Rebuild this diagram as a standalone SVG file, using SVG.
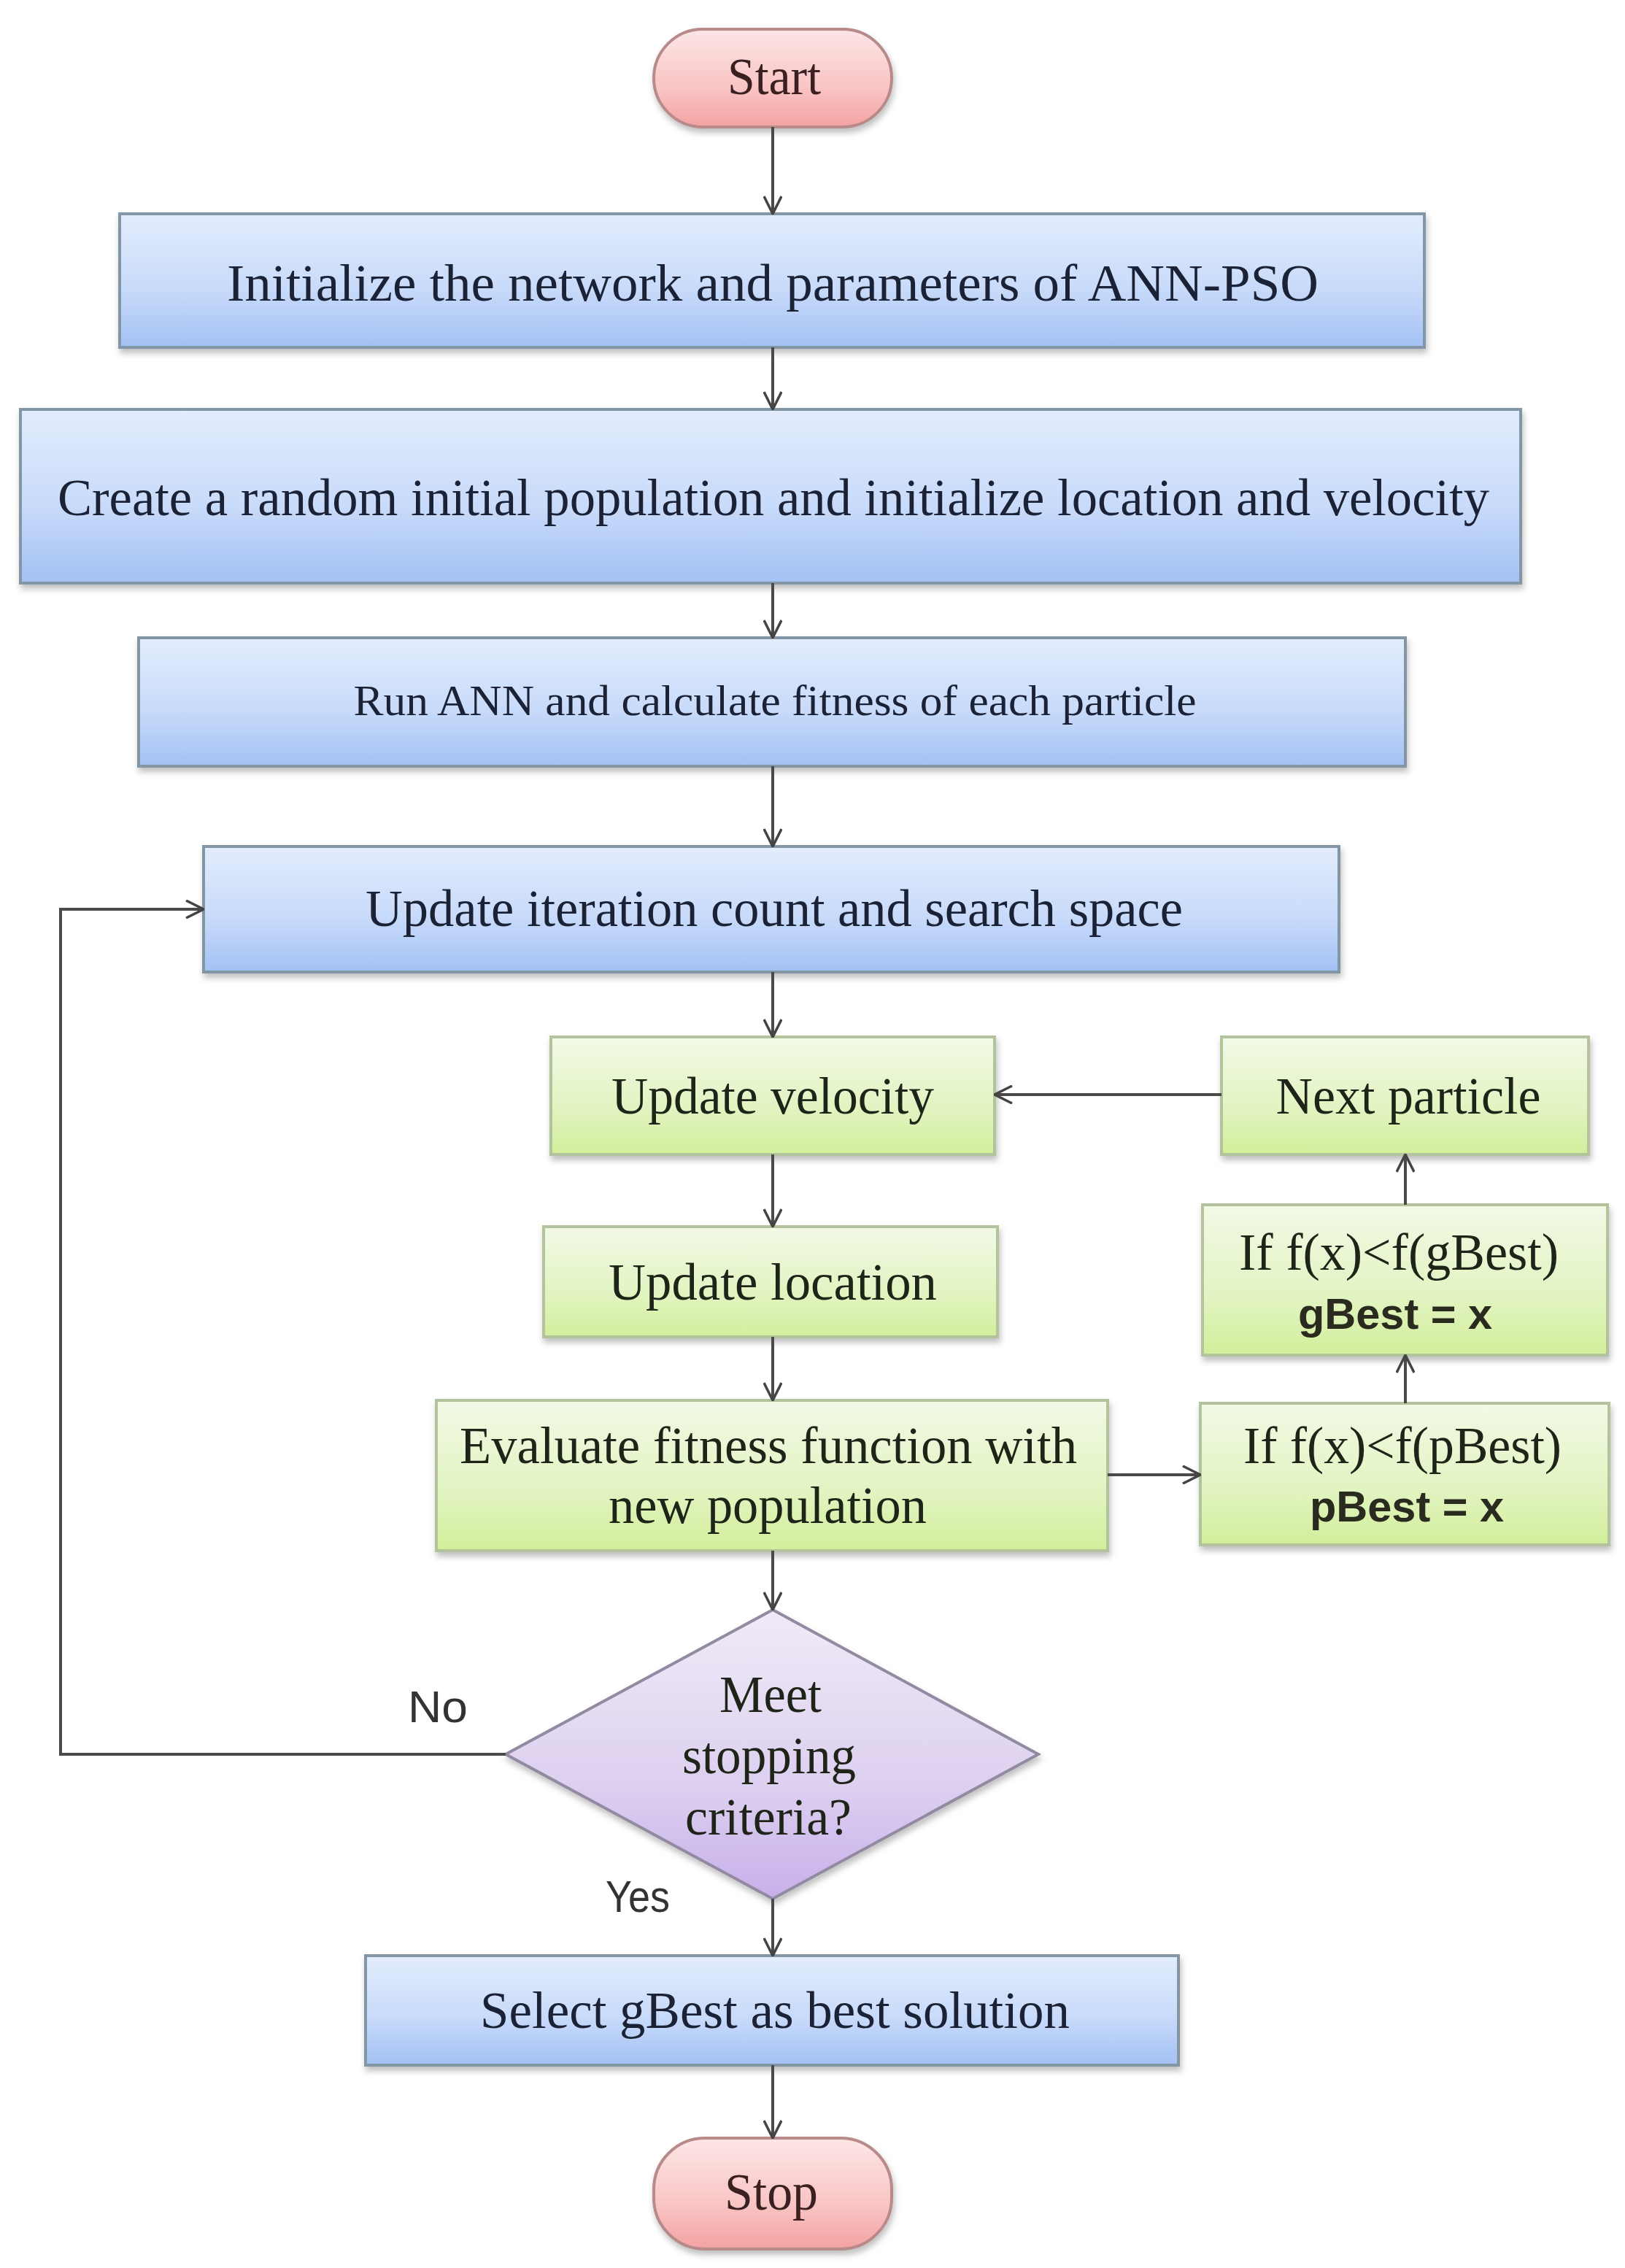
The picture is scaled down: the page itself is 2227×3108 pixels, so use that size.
<svg xmlns="http://www.w3.org/2000/svg" width="2227" height="3108" viewBox="0 0 2227 3108">
<defs>
<linearGradient id="gBlue" x1="0" y1="0" x2="0" y2="1"><stop offset="0" stop-color="#e2ecfc"/><stop offset="0.55" stop-color="#c9dbfa"/><stop offset="1" stop-color="#a3c1f4"/></linearGradient>
<linearGradient id="gGreen" x1="0" y1="0" x2="0" y2="1"><stop offset="0" stop-color="#f2f9e6"/><stop offset="0.6" stop-color="#e2f4c2"/><stop offset="1" stop-color="#d2ee9a"/></linearGradient>
<linearGradient id="gPink" x1="0" y1="0" x2="0" y2="1"><stop offset="0" stop-color="#fde6e6"/><stop offset="0.6" stop-color="#f9c4c4"/><stop offset="1" stop-color="#f4a2a2"/></linearGradient>
<linearGradient id="gPurple" x1="0" y1="0" x2="0" y2="1"><stop offset="0" stop-color="#f0ebf7"/><stop offset="0.6" stop-color="#ddd0f0"/><stop offset="1" stop-color="#c7b0ea"/></linearGradient>
<filter id="sh" x="-5%" y="-10%" width="110%" height="125%"><feDropShadow dx="2" dy="6" stdDeviation="4" flood-color="#000" flood-opacity="0.25"/></filter>
<marker id="ah" viewBox="0 0 26 26" refX="25" refY="13" markerWidth="26" markerHeight="26" markerUnits="userSpaceOnUse" orient="auto"><path d="M1,1 L25,13 L1,25" fill="none" stroke="#444" stroke-width="3.5"/></marker>
<style>
.blue{fill:url(#gBlue);stroke:#8296a6;stroke-width:4}
.green{fill:url(#gGreen);stroke:#b3c49c;stroke-width:4}
.pink{fill:url(#gPink);stroke:#b88a8a;stroke-width:4}
.purple{fill:url(#gPurple);stroke:#928aa0;stroke-width:4}
.t{font-family:"Liberation Serif","Times New Roman",serif;font-size:72px;text-anchor:middle;dominant-baseline:central}
.tb{fill:#1b2236}
.tg{fill:#1e2418}
.tp{fill:#3a2020}
.s{font-family:"Liberation Sans",Arial,sans-serif;font-weight:bold;font-size:60px;text-anchor:middle;dominant-baseline:central;fill:#2a2a1e}
.lbl{font-family:"Liberation Sans",Arial,sans-serif;font-size:62px;text-anchor:middle;dominant-baseline:central;fill:#333}
.c{fill:none;stroke:#4a4a4a;stroke-width:4;marker-end:url(#ah)}
</style>
</defs>
<rect width="2227" height="3108" fill="#ffffff"/>

<g id="start">
<rect class="pink" x="896" y="40" width="326" height="134" rx="67" filter="url(#sh)"/>
<text class="t tp" x="1061" y="105" textLength="128" lengthAdjust="spacingAndGlyphs">Start</text>
</g>

<g id="init">
<rect class="blue" x="164" y="293" width="1788" height="183" filter="url(#sh)"/>
<text class="t tb" x="1059" y="388" textLength="1496" lengthAdjust="spacingAndGlyphs">Initialize  the  network and  parameters of ANN-PSO</text>
</g>

<g id="create">
<rect class="blue" x="28" y="561" width="2056" height="238" filter="url(#sh)"/>
<text class="t tb" x="1060" y="682" textLength="1962" lengthAdjust="spacingAndGlyphs">Create a random initial population and initialize location and velocity</text>
</g>

<g id="run">
<rect class="blue" x="190" y="874" width="1736" height="176" filter="url(#sh)"/>
<text class="t tb" x="1062" y="960" style="font-size:60px" textLength="1155" lengthAdjust="spacingAndGlyphs">Run ANN and calculate fitness of each particle</text>
</g>

<g id="iter">
<rect class="blue" x="279" y="1160" width="1556" height="172" filter="url(#sh)"/>
<text class="t tb" x="1061" y="1245" textLength="1120" lengthAdjust="spacingAndGlyphs">Update iteration count and search space</text>
</g>

<g id="velocity">
<rect class="green" x="755" y="1421" width="608" height="161" filter="url(#sh)"/>
<text class="t tg" x="1059" y="1502" textLength="442" lengthAdjust="spacingAndGlyphs">Update velocity</text>
</g>

<g id="next">
<rect class="green" x="1674" y="1421" width="503" height="161" filter="url(#sh)"/>
<text class="t tg" x="1930" y="1502" textLength="363" lengthAdjust="spacingAndGlyphs">Next particle</text>
</g>

<g id="location">
<rect class="green" x="745" y="1681" width="622" height="151" filter="url(#sh)"/>
<text class="t tg" x="1059" y="1757" textLength="450" lengthAdjust="spacingAndGlyphs">Update location</text>
</g>

<g id="gbest">
<rect class="green" x="1648" y="1651" width="555" height="206" filter="url(#sh)"/>
<text class="t tg" x="1917" y="1716" textLength="438" lengthAdjust="spacingAndGlyphs">If f(x)&lt;f(gBest)</text>
<text class="s" x="1912" y="1800" textLength="266" lengthAdjust="spacingAndGlyphs">gBest = x</text>
</g>

<g id="evaluate">
<rect class="green" x="598" y="1919" width="920" height="206" filter="url(#sh)"/>
<text class="t tg" x="1053" y="1981" textLength="846" lengthAdjust="spacingAndGlyphs">Evaluate fitness function with</text>
<text class="t tg" x="1052" y="2063" textLength="436" lengthAdjust="spacingAndGlyphs">new population</text>
</g>

<g id="pbest">
<rect class="green" x="1645" y="1923" width="560" height="194" filter="url(#sh)"/>
<text class="t tg" x="1922" y="1981" textLength="436" lengthAdjust="spacingAndGlyphs">If f(x)&lt;f(pBest)</text>
<text class="s" x="1928" y="2064" textLength="266" lengthAdjust="spacingAndGlyphs">pBest = x</text>
</g>

<g id="decision">
<polygon class="purple" points="1059,2206 1423,2404 1059,2602 693,2404" filter="url(#sh)"/>
<text class="t tg" x="1056" y="2322" textLength="140" lengthAdjust="spacingAndGlyphs">Meet</text>
<text class="t tg" x="1054" y="2406" textLength="238" lengthAdjust="spacingAndGlyphs">stopping</text>
<text class="t tg" x="1053" y="2490" textLength="228" lengthAdjust="spacingAndGlyphs">criteria?</text>
</g>

<g id="select">
<rect class="blue" x="501" y="2680" width="1114" height="150" filter="url(#sh)"/>
<text class="t tb" x="1062" y="2755" textLength="808" lengthAdjust="spacingAndGlyphs">Select gBest as best solution</text>
</g>

<g id="stop">
<rect class="pink" x="896" y="2930" width="326" height="152" rx="70" filter="url(#sh)"/>
<text class="t tp" x="1057" y="3004" textLength="128" lengthAdjust="spacingAndGlyphs">Stop</text>
</g>

<g id="connectors">
<line class="c" x1="1059" y1="174" x2="1059" y2="293"/>
<line class="c" x1="1059" y1="476" x2="1059" y2="561"/>
<line class="c" x1="1059" y1="799" x2="1059" y2="874"/>
<line class="c" x1="1059" y1="1050" x2="1059" y2="1160"/>
<line class="c" x1="1059" y1="1332" x2="1059" y2="1421"/>
<line class="c" x1="1059" y1="1582" x2="1059" y2="1681"/>
<line class="c" x1="1059" y1="1832" x2="1059" y2="1919"/>
<line class="c" x1="1059" y1="2125" x2="1059" y2="2206"/>
<line class="c" x1="1059" y1="2602" x2="1059" y2="2680"/>
<line class="c" x1="1059" y1="2830" x2="1059" y2="2930"/>
<line class="c" x1="1518" y1="2021" x2="1645" y2="2021"/>
<line class="c" x1="1926" y1="1923" x2="1926" y2="1857"/>
<line class="c" x1="1926" y1="1651" x2="1926" y2="1582"/>
<line class="c" x1="1674" y1="1500" x2="1363" y2="1500"/>
<polyline class="c" points="693,2404 83,2404 83,1246 279,1246"/>
<text class="lbl" x="600" y="2338" textLength="82" lengthAdjust="spacingAndGlyphs">No</text>
<text class="lbl" x="874" y="2598" textLength="88" lengthAdjust="spacingAndGlyphs">Yes</text>
</g>
</svg>
